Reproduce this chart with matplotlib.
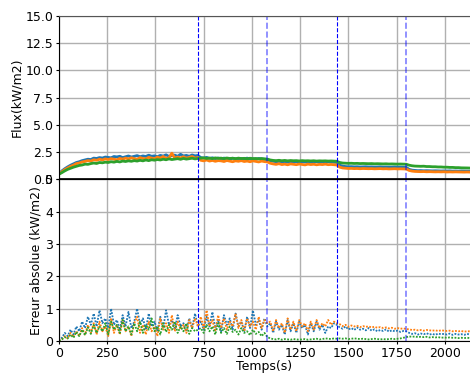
import matplotlib
matplotlib.use('Agg')
import matplotlib.pyplot as plt
import numpy as np

# sampling step of the series (s)
step = 15

flux_blue = [0.50, 0.78, 0.98, 1.15, 1.30, 1.42, 1.55, 1.62, 1.72, 1.78, 1.85, 1.82, 1.95, 1.92, 2.00, 1.96, 2.05, 2.02, 1.98, 2.10,
             2.06, 2.12, 2.00, 2.08, 2.15, 2.05, 2.12, 2.18, 2.08, 2.15, 2.10, 2.22, 2.12, 2.16, 2.08, 2.20, 2.14, 2.25, 2.10, 2.18,
             2.22, 2.12, 2.30, 2.15, 2.20, 2.12, 2.24, 2.16, 2.20,
             2.00, 1.95, 2.02, 1.92, 1.98, 1.90, 1.96, 1.88, 1.95, 1.92, 1.86, 1.94, 1.90, 1.85, 1.92, 1.88, 1.95, 1.86, 1.90, 1.84,
             1.92, 1.88, 1.85, 1.80,
             1.70, 1.66, 1.62, 1.65, 1.60, 1.64, 1.58, 1.62, 1.60, 1.63, 1.57, 1.61, 1.59, 1.62, 1.58, 1.60, 1.63, 1.58, 1.61, 1.59,
             1.62, 1.60, 1.58, 1.55,
             1.30, 1.22, 1.18, 1.16, 1.17, 1.15, 1.16, 1.14, 1.15, 1.16, 1.14, 1.15, 1.13, 1.14, 1.15, 1.13, 1.14, 1.12, 1.13, 1.14,
             1.12, 1.13, 1.12, 1.10,
             0.92, 0.85, 0.82, 0.80, 0.81, 0.79, 0.80, 0.79, 0.78, 0.79, 0.78, 0.77, 0.78, 0.77, 0.78, 0.76, 0.77, 0.76, 0.77, 0.76,
             0.76, 0.75]
flux_orange = [0.50, 0.70, 0.90, 1.05, 1.20, 1.30, 1.45, 1.50, 1.60, 1.65, 1.72, 1.68, 1.80, 1.75, 1.85, 1.78, 1.88, 1.82, 1.90, 1.85,
               1.80, 1.92, 1.86, 1.95, 1.88, 1.98, 1.90, 1.85, 2.00, 1.92, 1.88, 2.02, 1.95, 1.90, 2.05, 1.96, 2.10, 1.92, 2.00, 2.40,
               1.95, 2.05, 1.98, 2.08, 1.95, 2.02, 2.10, 1.96, 2.00,
               1.75, 1.70, 1.78, 1.68, 1.74, 1.66, 1.72, 1.70, 1.64, 1.73, 1.68, 1.62, 1.70, 1.66, 1.72, 1.64, 1.68, 1.62, 1.70, 1.65,
               1.60, 1.68, 1.63, 1.60,
               1.48, 1.42, 1.38, 1.44, 1.36, 1.40, 1.34, 1.42, 1.38, 1.35, 1.41, 1.37, 1.33, 1.40, 1.36, 1.39, 1.34, 1.38, 1.36, 1.40,
               1.35, 1.37, 1.34, 1.32,
               1.12, 1.05, 1.02, 1.00, 1.01, 0.99, 1.00, 0.98, 1.00, 0.99, 0.98, 0.99, 0.97, 0.98, 0.99, 0.97, 0.98, 0.96, 0.97, 0.98,
               0.96, 0.97, 0.96, 0.95,
               0.82, 0.76, 0.73, 0.72, 0.71, 0.72, 0.70, 0.71, 0.70, 0.69, 0.70, 0.69, 0.70, 0.68, 0.69, 0.68, 0.69, 0.68, 0.68, 0.67,
               0.68, 0.67]
flux_green = [0.48, 0.62, 0.78, 0.92, 1.02, 1.12, 1.20, 1.28, 1.32, 1.40, 1.38, 1.45, 1.50, 1.46, 1.55, 1.52, 1.58, 1.55, 1.62, 1.58,
              1.65, 1.60, 1.68, 1.64, 1.70, 1.66, 1.72, 1.68, 1.75, 1.70, 1.78, 1.72, 1.80, 1.76, 1.82, 1.78, 1.85, 1.80, 1.88, 1.82,
              1.86, 1.90, 1.84, 1.92, 1.86, 1.90, 1.94, 1.88, 1.92,
              1.95, 1.98, 1.92, 1.96, 1.90, 1.97, 1.93, 1.95, 1.90, 1.96, 1.92, 1.94, 1.90, 1.95, 1.91, 1.93, 1.89, 1.94, 1.90, 1.92,
              1.88, 1.91, 1.89, 1.86,
              1.78, 1.74, 1.72, 1.75, 1.71, 1.74, 1.70, 1.73, 1.71, 1.72, 1.69, 1.72, 1.70, 1.71, 1.69, 1.71, 1.68, 1.70, 1.69, 1.70,
              1.68, 1.69, 1.67, 1.66,
              1.55, 1.50, 1.48, 1.47, 1.48, 1.46, 1.47, 1.45, 1.46, 1.45, 1.44, 1.45, 1.43, 1.44, 1.43, 1.42, 1.43, 1.41, 1.42, 1.41,
              1.40, 1.41, 1.40, 1.39,
              1.30, 1.25, 1.22, 1.21, 1.20, 1.21, 1.18, 1.18, 1.16, 1.16, 1.14, 1.14, 1.12, 1.12, 1.10, 1.10, 1.08, 1.08, 1.06, 1.06,
              1.05, 1.04]

err_blue = [0.00, 0.10, 0.25, 0.15, 0.35, 0.20, 0.45, 0.30, 0.60, 0.40, 0.75, 0.50, 0.85, 0.45, 0.95, 0.55, 0.70, 0.40, 1.00, 0.50,
            0.65, 0.35, 0.80, 0.45, 0.90, 0.40, 0.60, 1.00, 0.50, 0.70, 0.35, 0.85, 0.45, 0.60, 0.30, 0.75, 0.40, 0.95, 0.50, 0.65,
            0.35, 0.80, 0.45, 0.55, 0.30, 0.70, 0.40, 0.85, 0.45,
            0.60, 0.35, 0.75, 0.45, 0.90, 0.40, 0.65, 0.30, 0.80, 0.50, 0.70, 0.35, 0.85, 0.45, 0.60, 0.30, 0.75, 0.40, 0.95, 0.50,
            0.65, 0.35, 0.70, 0.45,
            0.55, 0.25, 0.60, 0.35, 0.50, 0.20, 0.65, 0.30, 0.55, 0.25, 0.60, 0.40, 0.50, 0.20, 0.55, 0.30, 0.60, 0.35, 0.50, 0.25,
            0.45, 0.40, 0.55, 0.50,
            0.42, 0.38, 0.45, 0.36, 0.40, 0.34, 0.42, 0.35, 0.38, 0.33, 0.40, 0.32, 0.36, 0.30, 0.34, 0.31, 0.36, 0.29, 0.33, 0.30,
            0.32, 0.28, 0.31, 0.30,
            0.25, 0.22, 0.24, 0.20, 0.23, 0.21, 0.24, 0.20, 0.22, 0.19, 0.23, 0.21, 0.22, 0.20, 0.23, 0.19, 0.22, 0.20, 0.21, 0.19,
            0.22, 0.20]
err_orange = [0.00, 0.05, 0.15, 0.08, 0.25, 0.12, 0.30, 0.15, 0.40, 0.20, 0.50, 0.25, 0.55, 0.20, 0.60, 0.30, 0.45, 0.15, 0.70, 0.25,
              0.50, 0.20, 0.65, 0.30, 0.45, 0.15, 0.55, 0.75, 0.25, 0.50, 0.20, 0.60, 0.30, 0.45, 0.15, 0.70, 0.35, 0.55, 0.25, 0.80,
              0.30, 0.60, 0.35, 0.50, 0.25, 0.65, 0.40, 0.70, 0.45,
              0.75, 0.40, 0.95, 0.45, 0.65, 0.30, 0.80, 0.40, 0.70, 0.35, 0.60, 0.45, 0.85, 0.40, 0.65, 0.30, 0.70, 0.45, 0.60, 0.35,
              0.75, 0.40, 0.65, 0.55,
              0.60, 0.30, 0.65, 0.40, 0.55, 0.25, 0.70, 0.35, 0.60, 0.30, 0.65, 0.45, 0.55, 0.30, 0.60, 0.35, 0.65, 0.40, 0.55, 0.45,
              0.65, 0.50, 0.60, 0.55,
              0.52, 0.46, 0.50, 0.44, 0.48, 0.45, 0.47, 0.43, 0.46, 0.44, 0.45, 0.42, 0.44, 0.41, 0.43, 0.40, 0.42, 0.39, 0.41, 0.38,
              0.40, 0.38, 0.39, 0.37,
              0.36, 0.34, 0.35, 0.33, 0.34, 0.32, 0.34, 0.33, 0.32, 0.33, 0.31, 0.33, 0.32, 0.31, 0.32, 0.30, 0.31, 0.30, 0.31, 0.29,
              0.30, 0.30]
err_green = [0.00, 0.05, 0.12, 0.08, 0.20, 0.10, 0.28, 0.15, 0.35, 0.18, 0.42, 0.22, 0.50, 0.25, 0.45, 0.30, 0.55, 0.20, 0.60, 0.35,
             0.50, 0.25, 0.65, 0.30, 0.45, 0.20, 0.55, 0.30, 0.60, 0.25, 0.50, 0.35, 0.70, 0.30, 0.45, 0.20, 0.55, 0.28, 0.50, 0.35,
             0.60, 0.25, 0.45, 0.30, 0.55, 0.22, 0.40, 0.30, 0.35,
             0.40, 0.25, 0.50, 0.30, 0.45, 0.20, 0.55, 0.25, 0.40, 0.22, 0.45, 0.28, 0.35, 0.20, 0.40, 0.25, 0.30, 0.18, 0.35, 0.22,
             0.28, 0.15, 0.25, 0.12,
             0.08, 0.06, 0.05, 0.07, 0.04, 0.06, 0.05, 0.04, 0.06, 0.05, 0.04, 0.05, 0.06, 0.04, 0.05, 0.06, 0.07, 0.05, 0.06, 0.08,
             0.07, 0.06, 0.08, 0.07,
             0.08, 0.07, 0.08, 0.06, 0.07, 0.08, 0.07, 0.06, 0.07, 0.06, 0.05, 0.06, 0.07, 0.06, 0.05, 0.06, 0.05, 0.06, 0.07, 0.06,
             0.07, 0.08, 0.10, 0.12,
             0.14, 0.13, 0.14, 0.12, 0.13, 0.12, 0.13, 0.11, 0.12, 0.11, 0.12, 0.10, 0.11, 0.10, 0.11, 0.10, 0.10, 0.09, 0.10, 0.09,
             0.10, 0.09]

# instants where the heating changes (s)
changes = [720, 1080, 1440, 1800]

colors = ['tab:blue', 'tab:orange', 'tab:green']

fig = plt.figure(figsize=(4.70, 3.73), dpi=100)
ax1 = fig.add_axes([0.1255, 0.519, 0.8745, 0.439])
ax2 = fig.add_axes([0.1255, 0.0858, 0.8745, 0.4332], sharex=ax1)

for s, c in zip([flux_blue, flux_orange, flux_green], colors):
    ax1.plot(np.arange(len(s)) * step, s, color=c, lw=2.0)
for s, c in zip([err_blue, err_orange, err_green], colors):
    ax2.plot(np.arange(len(s)) * step, s, color=c, lw=1.3, linestyle=(0, (1, 0.8)))

for ax in (ax1, ax2):
    for i, x in enumerate(changes):
        if i % 2 == 0:
            ax.axvline(x, color='b', linestyle='--', lw=0.8)
        else:
            ax.axvline(x, color='b', linestyle='--', lw=1.2, alpha=0.5)
    ax.grid(True, color='#b0b0b0', lw=1)
    ax.set_axisbelow(True)
    ax.spines['right'].set_visible(False)
    ax.tick_params(labelsize=9, length=2.5, pad=1.5)

ax1.axhline(0, color='k', lw=1.2)
ax1.set_ylim(0, 15)
ax1.set_yticks(np.arange(0, 15.1, 2.5))
ax1.set_ylabel('Flux(kW/m2)', fontsize=9, labelpad=2)
ax1.tick_params(labelbottom=False)
ax1.spines['top'].set_color('#555555')

ax2.set_ylim(0, 5)
ax2.set_xlim(0, 2130)
ax2.set_yticks([0, 1, 2, 3, 4, 5])
ax2.set_xticks([0, 250, 500, 750, 1000, 1250, 1500, 1750, 2000])
ax2.set_ylabel('Erreur absolue (kW/m2)', fontsize=9, labelpad=2)
ax2.set_xlabel('Temps(s)', fontsize=9, labelpad=0)

fig.savefig('out.png', dpi=100)
